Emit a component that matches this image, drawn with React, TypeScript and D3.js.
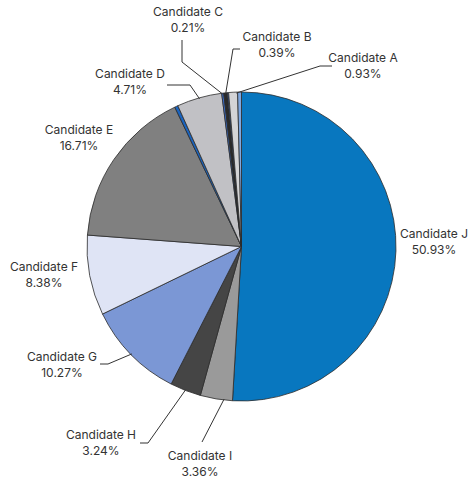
import * as d3 from "d3";

// slices clockwise from 12 o'clock
const names = [
  "Candidate J", "Candidate I", "Candidate H", "Candidate G", "Candidate F",
  "Candidate E", "", "Candidate D", "Candidate C", "Candidate B", "", "Candidate A", "",
];
const shares = [50.93, 3.36, 3.24, 10.27, 8.38, 16.71, 0.35, 4.71, 0.21, 0.39, 0.12, 0.93, 0.4];
const colors = [
  "#0877bf", "#9a9a9a", "#454545", "#7b97d5", "#dfe4f5",
  "#808080", "#1a64c0", "#c1c1c5", "#3a6fd0", "#2a2a2a", "#3a6fd0", "#d4d4d6", "#7fa8e0",
];

// label placement (first-line centre/baseline), optional elbow points, anchor fraction in slice
const labelLayout: Record<string, { x: number; y: number; elbow?: [number, number][]; t?: number; line?: boolean }> = {
  "Candidate J": { x: 434, y: 238, line: false },
  "Candidate I": { x: 200, y: 460, elbow: [[202, 442]], t: 0.26 },
  "Candidate H": { x: 101, y: 439, elbow: [[140, 443], [148, 443]] },
  "Candidate G": { x: 62, y: 361, elbow: [[100, 364], [108, 364]] },
  "Candidate F": { x: 44, y: 271, line: false },
  "Candidate E": { x: 79, y: 134, line: false },
  "Candidate D": { x: 130, y: 78, elbow: [[167, 85], [190, 85]] },
  "Candidate C": { x: 188, y: 16, elbow: [[182, 40], [182, 62]] },
  "Candidate B": { x: 277, y: 41, elbow: [[240, 49], [233, 49]] },
  "Candidate A": { x: 363, y: 62, elbow: [[332, 66], [320, 66]], t: 0.85 },
};

const width = 472;
const height = 480;
const cx = 241.5;
const cy = 246.5;
const radius = 154.5;

export default function App() {
  const data = names.map((name, i) => ({ name, share: shares[i], color: colors[i] }));
  const pie = d3
    .pie<any>()
    .sort(null)
    .value((d) => d.share);
  const arcs = pie(data);
  const arc = d3.arc<any>().innerRadius(0).outerRadius(radius);

  const pointAt = (a: number, r: number): [number, number] => [cx + r * Math.sin(a), cy - r * Math.cos(a)];

  return (
    <svg
      width={width}
      height={height}
      style={{ position: "absolute", left: 0, top: 0, background: "#fff" }}
      fontFamily="Inter, 'Noto Sans', sans-serif"
      fontSize={12}
    >
      <g transform={`translate(${cx},${cy})`}>
        {arcs.map((a, i) => (
          <path key={i} d={arc(a) as string} fill={a.data.color} stroke="#2b2b2b" strokeWidth={0.8} />
        ))}
      </g>
      {arcs
        .filter((a) => a.data.name && labelLayout[a.data.name])
        .map((a) => {
          const lay = labelLayout[a.data.name];
          const t = lay.t ?? 0.5;
          const ang = a.startAngle + (a.endAngle - a.startAngle) * t;
          const end = pointAt(ang, radius - 1);
          const pts = [...(lay.elbow ?? []), end];
          return (
            <g key={a.data.name}>
              {lay.line !== false && (
                <path d={d3.line()(pts) as string} fill="none" stroke="#333" strokeWidth={1} />
              )}
              <text x={lay.x} y={lay.y} textAnchor="middle" fill="#333">
                {a.data.name}
              </text>
              <text x={lay.x} y={lay.y + 16} textAnchor="middle" fill="#333">
                {a.data.share.toFixed(2)}%
              </text>
            </g>
          );
        })}
    </svg>
  );
}
